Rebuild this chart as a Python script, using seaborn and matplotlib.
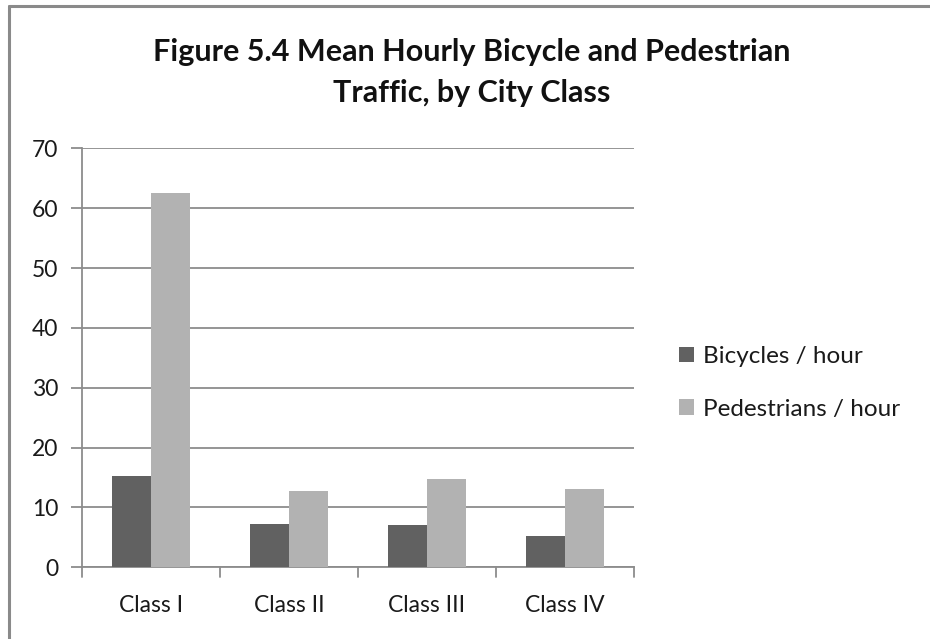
import matplotlib
matplotlib.use("Agg")
import matplotlib.pyplot as plt
import seaborn as sns
import pandas as pd
from matplotlib.lines import Line2D

categories = ["Class I", "Class II", "Class III", "Class IV"]
bicycles = [15.3, 7.2, 7.0, 5.2]
pedestrians = [62.6, 12.8, 14.7, 13.1]
series_names = ["Bicycles / hour", "Pedestrians / hour"]
y_ticks = [0, 10, 20, 30, 40, 50, 60, 70]

df = pd.DataFrame({
    "cls": categories * 2,
    "val": bicycles + pedestrians,
    "series": [series_names[0]] * 4 + [series_names[1]] * 4,
})

sns.set_theme(style="white")
plt.rcParams["font.family"] = ["Lato", "DejaVu Sans"]

W, H = 930, 639
fig = plt.figure(figsize=(W / 100, H / 100), dpi=100)
ax = fig.add_axes([82 / W, 1 - 567.3 / H, (634 - 82) / W, (567.3 - 148.3) / H])

grid_col = "#8c8c8c"
sns.barplot(data=df, x="cls", y="val", hue="series", order=categories,
            hue_order=series_names, palette=["#616161", "#b2b2b2"],
            width=0.565, gap=0, saturation=1, ax=ax, legend=True,
            linewidth=0, zorder=3)

ax.set_ylim(0, 70)
ax.set_yticks(y_ticks)
ax.set_xlim(-0.5, 3.5)
ax.yaxis.grid(True, color=grid_col, linewidth=1.3, zorder=0)
ax.set_axisbelow(True)
ax.set_xlabel("")
ax.set_ylabel("")
for s in ["top", "right"]:
    ax.spines[s].set_visible(False)
for s in ["left", "bottom"]:
    ax.spines[s].set_color(grid_col)
    ax.spines[s].set_linewidth(1.3)

ax.tick_params(axis="y", left=True, length=8, width=1.3, color=grid_col,
               labelsize=16.5, labelcolor="#1a1a1a", pad=9)
ax.set_xticks([0, 1, 2, 3])
ax.set_xticklabels(categories)
ax.tick_params(axis="x", bottom=False, labelsize=16.5, labelcolor="#1a1a1a", pad=14)
# category boundary ticks
for xb in [-0.5, 0.5, 1.5, 2.5, 3.5]:
    ax.plot([xb, xb], [0, -0.022], transform=ax.get_xaxis_transform(),
            color=grid_col, linewidth=1.3, clip_on=False)

leg = ax.legend(loc="center left", bbox_to_anchor=(1.0, 0.44),
                frameon=False, fontsize=17.5, handlelength=0.6, handleheight=0.6,
                handletextpad=0.4, labelspacing=1.3, borderaxespad=1.45)
for t in leg.get_texts():
    t.set_color("#1a1a1a")

fig.text(472 / W, 1 - 72.5 / H, "Figure 5.4 Mean Hourly Bicycle and Pedestrian\nTraffic, by City Class",
         ha="center", va="center", fontsize=22, fontweight="bold",
         color="#111111", linespacing=1.55)

# outer frame (top and left edges)
fig.add_artist(Line2D([9 / W, 1], [1 - 6 / H, 1 - 6 / H], transform=fig.transFigure,
                      color="#8a8a8a", linewidth=2.2))
fig.add_artist(Line2D([9 / W, 9 / W], [0, 1 - 6 / H], transform=fig.transFigure,
                      color="#8a8a8a", linewidth=2.2))

fig.savefig("out.png", dpi=100)
